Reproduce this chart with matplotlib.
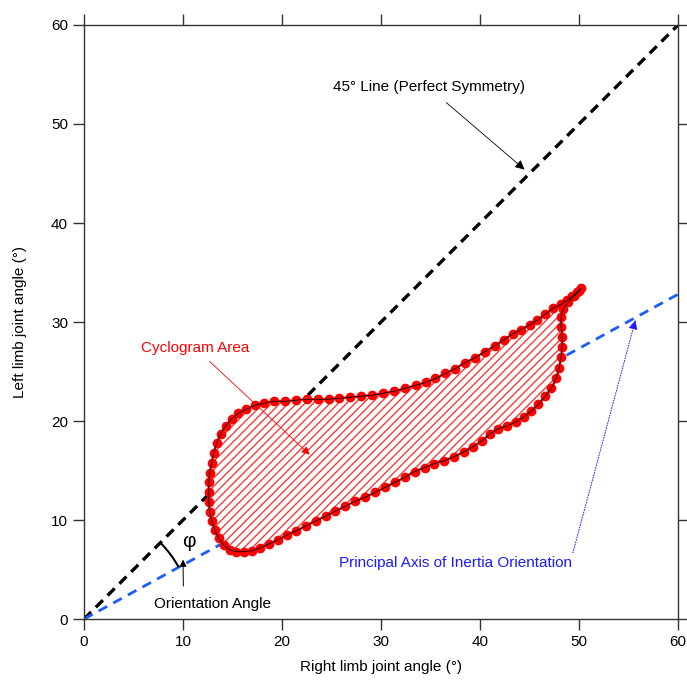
import numpy as np
import matplotlib
matplotlib.use("Agg")
import matplotlib.pyplot as plt
from matplotlib.patches import Arc, Polygon

plt.rcParams['font.family'] = ['Liberation Sans', 'DejaVu Sans']
plt.rcParams['hatch.linewidth'] = 0.9

# cyclogram points (right limb, left limb), degrees
right_angle = [50.2, 49.8, 49.3, 48.8, 48.2, 47.4, 46.6, 45.8, 45.0, 44.1, 43.3, 42.4,
               41.5, 40.5, 39.5, 38.5, 37.5, 36.5, 35.5, 34.5, 33.5, 32.4, 31.3, 30.2,
               29.1, 28.0, 26.9, 25.8, 24.7, 23.6, 22.5, 21.4, 20.3, 19.2, 18.2, 17.3,
               16.4, 15.6, 14.9, 14.3, 13.8, 13.4, 13.1, 12.9, 12.7, 12.6, 12.6, 12.6,
               12.7, 12.9, 13.2, 13.6, 14.1, 14.7, 15.4, 16.2, 17.0, 17.8, 18.7, 19.6,
               20.5, 21.4, 22.4, 23.4, 24.4, 25.4, 26.4, 27.4, 28.4, 29.4, 30.4, 31.4,
               32.4, 33.4, 34.4, 35.4, 36.4, 37.4, 38.4, 39.3, 40.2, 41.0, 41.8, 42.7,
               43.6, 44.4, 45.2, 45.9, 46.6, 47.2, 47.7, 48.0, 48.2, 48.3, 48.3, 48.2,
               48.2, 48.4, 48.9, 49.5, 50.0]
left_angle = [33.4, 33.0, 32.6, 32.2, 31.8, 31.4, 30.8, 30.2, 29.7, 29.2, 28.8, 28.2,
              27.6, 27.0, 26.4, 25.9, 25.3, 24.8, 24.3, 23.9, 23.6, 23.3, 23.0, 22.8,
              22.6, 22.5, 22.4, 22.3, 22.2, 22.2, 22.2, 22.1, 22.0, 22.0, 21.8, 21.6,
              21.2, 20.8, 20.2, 19.5, 18.7, 17.8, 16.8, 15.8, 14.8, 13.8, 12.8, 11.8,
              10.8, 9.9, 9.0, 8.2, 7.5, 7.0, 6.8, 6.8, 6.9, 7.2, 7.6, 8.0,
              8.5, 8.9, 9.4, 9.9, 10.4, 10.9, 11.4, 11.9, 12.3, 12.8, 13.3, 13.8,
              14.3, 14.9, 15.3, 15.7, 16.0, 16.4, 16.9, 17.4, 18.0, 18.7, 19.2, 19.5,
              19.9, 20.4, 21.0, 21.7, 22.5, 23.3, 24.3, 25.4, 26.5, 27.5, 28.5, 29.5,
              30.5, 31.3, 32.0, 32.6, 33.1]

symmetry_line = [0, 60]
principal_x = [0, 60]
principal_y = [0, 32.8]

fig = plt.figure(figsize=(6.87, 6.81), dpi=100)
ax = fig.add_axes([0.1223, 0.0910, 0.8646, 0.8723])

ax.plot(symmetry_line, symmetry_line, color='black', lw=2.4, ls=(0, (3, 2)), zorder=2)
ax.plot(principal_x, principal_y, color='#1a5cff', lw=2.0, ls=(0, (3.5, 2.5)), zorder=2)

pts = np.column_stack([right_angle, left_angle])
ax.add_patch(Polygon(pts, closed=True, facecolor='white', edgecolor='#ff2a2a',
                     hatch='////', lw=0, zorder=3))
ax.plot(right_angle, left_angle, 'o-', color='red', ms=6, lw=1.5, zorder=4)
ax.add_patch(Polygon(pts, closed=True, fill=False, edgecolor='black', lw=0.6, zorder=5))

# orientation angle arc
phi_axis = np.degrees(np.arctan2(principal_y[1], principal_x[1]))
ax.add_patch(Arc((0, 0), 21.8, 21.8, theta1=phi_axis, theta2=45, color='black', lw=1.5, zorder=4))
ax.text(10.6, 7.8, 'φ', fontsize=15, ha='center', va='center', zorder=6)

ax.annotate('45° Line (Perfect Symmetry)', xy=(44.5, 45.4), xytext=(34.8, 53.7),
            fontsize=11, ha='center', va='center',
            arrowprops=dict(arrowstyle='-|>', color='black', lw=0.6, mutation_scale=14,
                            shrinkA=6, shrinkB=0))
ax.annotate('Cyclogram Area', xy=(22.8, 16.6), xytext=(11.2, 27.4), color='red',
            fontsize=11, ha='center', va='center',
            arrowprops=dict(arrowstyle='-|>', color='red', lw=0.6, mutation_scale=12,
                            shrinkA=4, shrinkB=0))
ax.annotate('Principal Axis of Inertia Orientation', xy=(55.7, 30.2), xytext=(37.5, 5.7),
            color='#1a1aff', fontsize=11, ha='center', va='center',
            arrowprops=dict(arrowstyle='-|>', color='#1a1aff', lw=0.7, ls=':',
                            mutation_scale=14, shrinkA=0, shrinkB=0,
                            relpos=(1.0, 0.9)))
ax.annotate('Orientation Angle', xy=(10.0, 6.0), xytext=(13.0, 1.5),
            fontsize=11, ha='center', va='center',
            arrowprops=dict(arrowstyle='-|>', color='black', lw=0.7, mutation_scale=10,
                            shrinkA=6, shrinkB=0, relpos=(0.25, 1.0)))

ax.set_xlim(0, 60)
ax.set_ylim(0, 60)
ax.set_xticks(range(0, 61, 10))
ax.set_yticks(range(0, 61, 10))
ax.tick_params(direction='out', length=8, width=1, labelsize=11, color='#333333',
               top=True, right=True)
for s in ax.spines.values():
    s.set_color('#333333')
    s.set_linewidth(1)
ax.set_xlabel('Right limb joint angle (°)', fontsize=11, labelpad=8)
ax.set_ylabel('Left limb joint angle (°)', fontsize=11, labelpad=17)

fig.savefig('out.png', dpi=100)
